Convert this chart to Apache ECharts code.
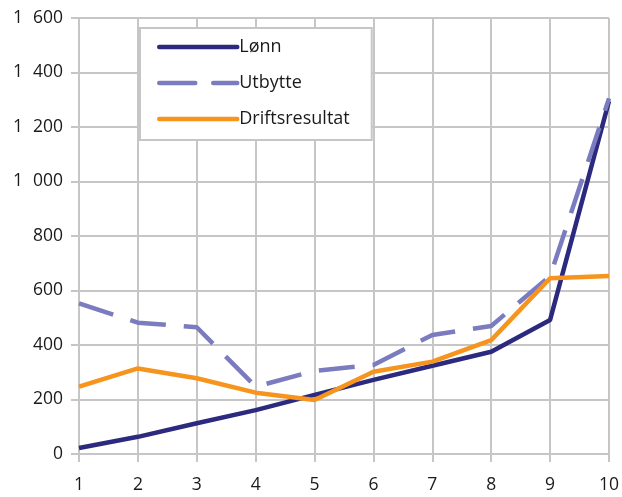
<!DOCTYPE html>
<html><head><meta charset="utf-8">
<script src="https://cdn.jsdelivr.net/npm/echarts@6/dist/echarts.min.js"></script>
<style>html,body{margin:0;padding:0;background:#fff}#c{width:622px;height:497px}</style>
</head><body><div id="c"></div>
<script>
const categories = ['1','2','3','4','5','6','7','8','9','10'];
const lonn = [22, 63, 113, 161, 217, 272, 324, 375, 492, 1295];
const utbytte = [553, 482, 465, 247, 305, 327, 437, 470, 653, 1305];
const drift = [247, 314, 278, 225, 198, 302, 339, 418, 645, 653];
const seriesNames = ['Lønn', 'Utbytte', 'Driftsresultat'];

const FONT = '"Open Sans", "Noto Sans", sans-serif';
const GRID = '#c6c6c6';
const chart = echarts.init(document.getElementById('c'));
chart.setOption({
  animation: false,
  grid: {left: 79, right: 13, top: 18, bottom: 43},
  legend: {
    orient: 'vertical', left: 140, top: 28,
    backgroundColor: '#fff', borderColor: GRID, borderWidth: 2,
    padding: [10, 22, 12, 17],
    itemWidth: 78, itemHeight: 14, itemGap: 18,
    itemStyle: {opacity: 0},
    lineStyle: {width: 4.5, cap: 'round'},
    textStyle: {fontFamily: FONT, fontSize: 18, color: '#1a1a1a', padding: [8, 0, 0, -3]},
    data: seriesNames
  },
  xAxis: {
    type: 'category', data: categories, boundaryGap: false,
    axisLine: {lineStyle: {color: GRID, width: 2}},
    axisTick: {show: true, length: 8, lineStyle: {color: GRID, width: 2}},
    splitLine: {show: true, lineStyle: {color: GRID, width: 2}},
    axisLabel: {fontFamily: FONT, fontSize: 17.5, color: '#1a1a1a', margin: 22}
  },
  yAxis: {
    type: 'value', min: 0, max: 1600, interval: 200,
    axisLine: {show: true, lineStyle: {color: GRID, width: 2}},
    axisTick: {show: true, length: 8, lineStyle: {color: GRID, width: 2}},
    splitLine: {show: true, lineStyle: {color: GRID, width: 2}},
    axisLabel: {fontFamily: FONT, fontSize: 17.5, color: '#1a1a1a', margin: 16,
      formatter: v => String(v).replace(/\B(?=(\d{3})+(?!\d))/g, '\u2007')}
  },
  series: [
    {name: seriesNames[0], type: 'line', data: lonn, symbol: 'none',
     lineStyle: {color: '#2b2a7e', width: 4.5}, itemStyle: {color: '#2b2a7e'}},
    {name: seriesNames[1], type: 'line', data: utbytte, symbol: 'none',
     lineStyle: {color: '#7b7bbf', width: 4.5, type: [36, 18]}, itemStyle: {color: '#7b7bbf'}},
    {name: seriesNames[2], type: 'line', data: drift, symbol: 'none',
     lineStyle: {color: '#f7941d', width: 4.5}, itemStyle: {color: '#f7941d'}}
  ]
});
</script></body></html>
